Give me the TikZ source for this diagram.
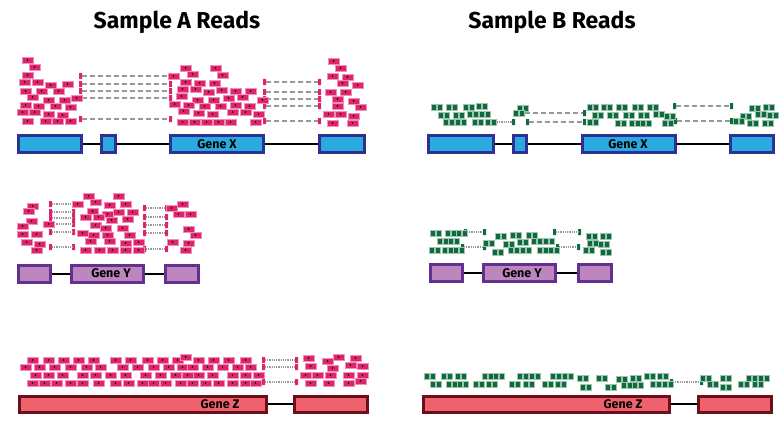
\documentclass[tikz,border=0pt]{standalone}
\usepackage{fontspec}
\setmainfont{Fira Sans}
\definecolor{readpink}{HTML}{E0236D}
\definecolor{readgreen}{HTML}{0E6B3C}
\definecolor{exblue}{HTML}{29ABE2}
\definecolor{exblueb}{HTML}{2E3192}
\definecolor{expurple}{HTML}{BD86BF}
\definecolor{expurpleb}{HTML}{62318F}
\definecolor{exred}{HTML}{F0616E}
\definecolor{exredb}{HTML}{6A0F1B}
\tikzset{
  exonX/.style={draw=exblueb, fill=exblue, line width=3pt},
  exonY/.style={draw=expurpleb, fill=expurple, line width=3pt},
  exonZ/.style={draw=exredb, fill=exred, line width=3pt},
  intron/.style={line width=2pt, black},
  pread/.style={fill=readpink, draw=readpink!50, line width=0.5pt},
  gread/.style={fill=readgreen, draw=readgreen!40, line width=0.5pt},
  dashjunc/.style={black!40, line width=1.5pt, dash pattern=on 5pt off 3pt},
  dotjunc/.style={black!40, line width=1.2pt, dash pattern=on 1pt off 0.8pt},
  title/.style={font=\fontsize{23}{27}\selectfont\bfseries},
  genelabel/.style={font=\fontsize{12.5}{14}\selectfont\bfseries}
}
% розовые и зелёные риды
\newcommand{\pinkreads}[1]{\foreach \x/\y in {#1}{%
  \draw[pread] (\x,\y) rectangle ++(11,6);
  \fill (\x+5.5,\y+3) circle (0.8pt);}}
\newcommand{\greenreads}[1]{\foreach \x/\y in {#1}{%
  \draw[gread] (\x,\y) rectangle ++(5.2,6) (\x+5.8,\y) rectangle ++(5.2,6);}}
% разрезанные риды: левый x, правый x, верх
\newcommand{\pinksplit}[4]{\foreach \y in {#4}{%
  \fill[readpink] (#2,\y) rectangle ++(3,6) (#3,\y) rectangle ++(3,6);
  \draw[#1] (#2+3,\y+3) -- (#3,\y+3);}}
\newcommand{\greensplit}[4]{\foreach \y in {#4}{%
  \fill[readgreen] (#2,\y) rectangle ++(3,6) (#3,\y) rectangle ++(3,6);
  \draw[#1] (#2+3,\y+3) -- (#3,\y+3);}}
\begin{document}
\begin{tikzpicture}[x=1pt, y=-1pt]
  \useasboundingbox (0,0) rectangle (779,428);
  \node[title] (titleA) at (177,22) {Sample A Reads};
  \node[title] (titleB) at (552,22) {Sample B Reads};

  % Ген X, образец A
  \draw[intron] (17,144) -- (366,144);
  \draw[exonX] (18.5,135.5) rectangle (81.5,152.5);
  \draw[exonX] (101.5,135.5) rectangle (115.5,152.5);
  \draw[exonX] (170.5,135.5) rectangle (263.5,152.5);
  \draw[exonX] (319.5,135.5) rectangle (364.5,152.5);
  \node[genelabel] (geneXa) at (217,144) {Gene X};
  \pinksplit{dashjunc}{79}{169}{73,81,88,95,116}
  \pinksplit{dashjunc}{263}{318}{79,89,96,103,118}
  \pinkreads{22/57, 29/64, 22/72, 19/79, 32/79, 45/82, 62/81, 20/88, 36/88, 53/88,
    27/94, 43/97, 59/97, 71/95, 20/102, 33/103, 50/103, 65/104, 17/109, 29/109,
    43/111, 57/112, 22/118, 40/118, 52/118, 65/118}
  \pinkreads{180/65, 210/65, 187/71, 217/72, 168/73, 180/79, 194/80, 209/80,
    177/86, 190/86, 203/89, 216/87, 230/88, 245/88, 176/93, 192/97, 208/97,
    223/95, 237/94, 257/97, 169/101, 183/102, 199/103, 215/103, 230/102, 244/103,
    178/108, 193/110, 207/111, 227/109, 240/109, 253/111,
    177/119, 189/119, 201/119, 213/119, 225/119, 250/119}
  \pinkreads{328/58, 335/65, 327/73, 342/74, 337/80, 352/82, 325/89, 340/89,
    332/96, 348/98, 332/103, 355/104, 323/111, 335/111, 348/113, 327/120, 347/120}

  % Ген X, образец B
  \draw[intron] (427,144) -- (775,144);
  \draw[exonX] (428.5,135.5) rectangle (493.5,152.5);
  \draw[exonX] (513.5,135.5) rectangle (526.5,152.5);
  \draw[exonX] (582.5,135.5) rectangle (675.5,152.5);
  \draw[exonX] (730.5,135.5) rectangle (773.5,152.5);
  \node[genelabel] (geneXb) at (628,144) {Gene X};
  \greensplit{dotjunc}{494}{512}{119}
  \greensplit{dashjunc}{522}{583}{110}
  \greensplit{dashjunc}{526}{583}{119}
  \greensplit{dashjunc}{673}{730}{103}
  \greensplit{dashjunc}{674}{730}{118}
  \greenreads{431/104, 446/104, 463/104, 476/103, 438/112, 453/112, 467/111,
    479/111, 443/119, 455/119, 472/119, 485/119}
  \greenreads{517/105, 513/110, 587/104, 601/104, 616/104, 632/104, 647/104,
    592/112, 607/112, 623/112, 638/112, 653/111, 664/113,
    587/119, 615/120, 629/120, 640/120, 662/120}
  \greenreads{749/105, 763/104, 740/113, 755/111, 767/112, 733/118, 747/120, 762/120}

  % Ген Y, образец A
  \draw[intron] (17,274) -- (200,274);
  \draw[exonY] (18.5,265.5) rectangle (50.5,282.5);
  \draw[exonY] (71.5,265.5) rectangle (143.5,282.5);
  \draw[exonY] (165.5,265.5) rectangle (198.5,282.5);
  \node[genelabel] (geneYa) at (111,273) {Gene Y};
  \pinksplit{dotjunc}{49}{72}{201,209,215,221,229,244}
  \pinksplit{dotjunc}{143}{165}{205,214,222,230,246}
  \pinkreads{27/203, 23/208, 26/218, 17/223, 17/231, 31/231, 43/221, 21/239,
    34/241, 31/247}
  \pinkreads{83/193, 113/193, 90/199, 104/202, 120/201, 72/201, 87/208, 102/211,
    113/209, 127/209, 80/214, 93/214, 106/217, 122/216, 90/222, 100/225, 117/225,
    77/230, 88/232, 102/232, 124/232, 85/238, 104/238, 120/240, 133/239,
    80/247, 94/247, 107/247, 120/247, 133/247}
  \pinkreads{177/201, 166/205, 173/211, 185/211, 183/226, 190/232, 167/239,
    183/240, 180/247}

  % Ген Y, образец B
  \draw[intron] (429,273) -- (613,273);
  \draw[exonY] (430.5,264.5) rectangle (462.5,281.5);
  \draw[exonY] (483.5,264.5) rectangle (555.5,281.5);
  \draw[exonY] (578.5,264.5) rectangle (611.5,281.5);
  \node[genelabel] (geneYb) at (522,273) {Gene Y};
  \greensplit{dotjunc}{464}{483}{229}
  \greensplit{dotjunc}{461}{483}{244}
  \greensplit{dotjunc}{553}{578}{229}
  \greensplit{dotjunc}{556}{577}{244}
  \greenreads{430/230, 445/230, 456/230, 437/238, 448/238, 429/247, 442/247, 453/247}
  \greenreads{495/233, 510/232, 526/232, 483/240, 503/241, 517/239, 531/238,
    543/238, 492/249, 508/247, 520/247, 537/247, 548/247}
  \greenreads{586/233, 600/233, 587/240, 598/241, 583/247, 600/249}

  % Ген Z, образец A
  \draw[intron] (18,404) -- (369,404);
  \draw[exonZ] (19.5,396.5) rectangle (266.5,412.5);
  \draw[exonZ] (294.5,396.5) rectangle (367.5,412.5);
  \node[genelabel] (geneZa) at (220,404) {Gene Z};
  \pinksplit{dotjunc}{262}{295}{357,364,379}
  \pinkreads{27/357, 43/357, 58/357, 73/357, 88/357, 110/357, 125/357, 142/357,
    157/357, 172/357, 180/354, 193/357, 208/357, 223/357, 240/357}
  \pinkreads{20/364, 34/364, 49/364, 65/364, 81/364, 95/364, 117/364, 132/364,
    148/364, 163/364, 177/364, 187/364, 202/364, 217/364, 232/364, 245/364}
  \pinkreads{30/372, 43/372, 57/372, 77/372, 90/372, 105/372, 120/372, 140/372,
    155/372, 170/372, 182/372, 193/372, 207/372, 227/372, 240/372, 253/372}
  \pinkreads{27/380, 39/380, 51/380, 65/380, 77/380, 93/380, 110/380, 123/380,
    137/380, 148/380, 160/380, 175/380, 187/380, 200/380, 213/380, 227/380,
    240/380, 250/380}
  \pinkreads{303/355, 305/363, 300/372, 312/372, 305/380, 322/358, 327/365,
    325/372, 323/380, 333/354, 345/362, 350/355, 357/363, 343/372, 357/372,
    343/380, 355/378}

  % Ген Z, образец B
  \draw[intron] (422,404) -- (773,404);
  \draw[exonZ] (423.5,396.5) rectangle (669.5,412.5);
  \draw[exonZ] (698.5,396.5) rectangle (771.5,412.5);
  \node[genelabel] (geneZb) at (623,404) {Gene Z};
  \greensplit{dotjunc}{670}{700}{379}
  \greenreads{424/373, 441/373, 455/373, 482/373, 493/373, 517/373, 529/373,
    550/373, 562/373, 577/375, 596/375, 616/376, 630/375, 644/373, 657/373,
    700/375, 720/375, 746/375, 758/375}
  \greenreads{430/381, 446/381, 457/381, 473/381, 486/381, 509/381, 523/381,
    542/381, 555/381, 580/384, 605/384, 621/382, 632/382, 650/381, 662/381,
    707/381, 720/384, 738/381, 752/381}
\end{tikzpicture}
\end{document}
